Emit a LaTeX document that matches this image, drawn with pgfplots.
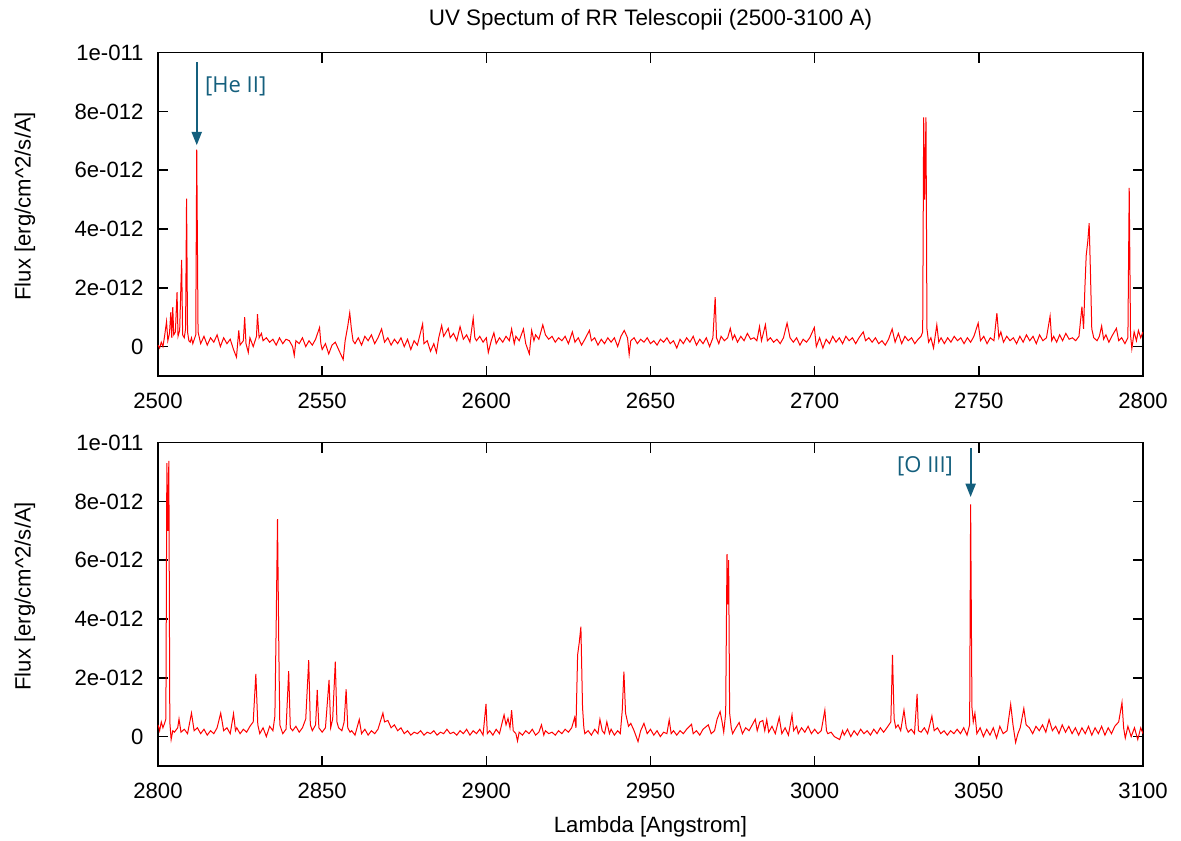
\documentclass[border=0pt]{standalone}
\usepackage{fontspec}
\setmainfont{Liberation Sans}
\newfontfamily\annfont{Open Sans}
\usepackage{pgfplots}
\pgfplotsset{compat=1.18}
\usetikzlibrary{arrows.meta}
\definecolor{annot}{RGB}{20,95,125}

\pgfplotsset{spec/.style={
    scale only axis, width=738.75pt, height=242.5pt,
    ymin=-1, ymax=10,
    ytick={0,2,4,6,8,10},
    yticklabels={0,2e-012,4e-012,6e-012,8e-012,1e-011},
    tick align=inside, major tick length=7.5pt,
    axis line style={line width=1.2pt},
    every tick/.style={black, line width=1.2pt},
    tick label style={font=\fontsize{16.6}{19}\selectfont},
    label style={font=\fontsize{16.6}{19}\selectfont},
    yticklabel style={xshift=-7.3pt},
    xticklabel style={yshift=-9.2pt},
    /pgf/number format/assume math mode=true,
    /pgf/number format/1000 sep={},
    ylabel={Flux [erg/cm\textasciicircum 2/s/A]},
    ylabel style={at={(axis description cs:-0.135,0.525)}, anchor=center},
}}

\begin{document}
\begin{tikzpicture}
\useasboundingbox (-118.5pt,-56.25pt) rectangle (767.25pt,574.5pt);

% upper panel, 2500-2800 A (flux in units of 1e-12)
\begin{axis}[spec, at={(0,292.5pt)}, anchor=south west,
    xmin=2500, xmax=2800, xtick={2500,2550,...,2800},
    title={UV Spectum of RR Telescopii (2500-3100 A)},
    title style={at={(0.5,1)}, anchor=base, yshift=14pt, font=\fontsize{16.8}{19}\selectfont}]
\addplot[red, line width=0.75pt] coordinates {
(2500.0,0.05) (2500.5,-0.05) (2501.0,0.15) (2501.5,0.0) (2502.0,0.35) (2502.6,0.85) (2503.0,0.2) (2503.5,0.45)
(2503.9,1.17) (2504.2,0.3) (2504.5,1.34) (2504.8,0.4) (2505.3,0.5) (2505.8,1.85) (2506.1,0.35) (2506.6,0.55)
(2507.2,2.95) (2507.5,0.4) (2508.0,0.3) (2508.4,0.6) (2508.7,5.03) (2509.0,0.5) (2509.4,0.2) (2509.8,0.15)
(2510.2,0.3) (2510.6,0.1) (2511.5,0.4) (2511.8,6.7) (2512.2,0.5) (2512.6,0.3)
(2513,0.1) (2514,0.35) (2515,0.05) (2516,0.3) (2517,0.15) (2518,0.4) (2519,0.0) (2520,0.3) (2521,0.1)
(2522,0.25) (2523,-0.1) (2523.9,-0.36) (2524.6,0.55) (2525,0.05) (2526,0.2) (2526.4,1.0) (2526.8,0.1)
(2527.5,-0.2) (2528,0.3) (2529,0.0) (2530,0.35) (2530.3,1.1) (2530.8,0.3) (2531.5,0.45) (2532,0.2)
(2533,0.3) (2534,0.15) (2535,0.25) (2536,0.05) (2537,0.3) (2538,0.1) (2539,0.25) (2540,0.2) (2541,0.0)
(2541.5,-0.3) (2542,0.2) (2543,0.1) (2544,0.3) (2545,0.0) (2546,0.2) (2547,0.05) (2548,0.25) (2549.2,0.65)
(2549.6,0.1) (2550,-0.1) (2551,0.1) (2552,-0.25) (2553,0.05) (2554,0.15) (2555,-0.1) (2556.4,-0.44)
(2557,0.2) (2557.8,0.7) (2558.4,1.15) (2558.9,0.6) (2559.4,0.2) (2560,0.1)
(2561,0.3) (2562,0.05) (2563,0.35) (2564,0.2) (2565,0.4) (2566,0.1) (2567,0.3) (2568.1,0.6) (2569,0.15)
(2570,0.3) (2571,0.05) (2572,0.25) (2573,0.1) (2574,0.3) (2575,0.0) (2576,0.25) (2577,-0.1) (2578,0.2)
(2579,0.05) (2580.6,0.77) (2581,0.1) (2582,0.2) (2583,-0.16) (2584,0.1) (2584.8,-0.2) (2585.5,0.3)
(2586.4,0.72) (2587,0.35) (2588.4,0.62) (2589,0.3) (2590,0.45) (2591,0.2) (2592,0.68) (2593,0.25)
(2594,0.4) (2595,0.15) (2596,0.97) (2596.5,0.3) (2597,0.2) (2598,0.35) (2599,0.15) (2600,0.3)
(2600.6,-0.2) (2601.5,0.2) (2602.3,0.47) (2603,0.1) (2604,0.3) (2605,0.15) (2606,0.35) (2607,0.2)
(2607.7,0.6) (2608.5,0.1) (2609,0.35) (2610,0.2) (2611.3,0.6) (2612,0.1) (2613.1,-0.25) (2613.8,0.55)
(2614.5,0.2) (2615,0.4) (2616,0.25) (2617.2,0.74) (2618,0.4) (2619,0.25) (2620,0.35) (2621,0.15)
(2622,0.3) (2623,0.2) (2624,0.35) (2625,0.1) (2626.2,0.5) (2627,0.15) (2628,0.3) (2629,0.05) (2630,0.25)
(2631.4,0.55) (2632,0.2) (2633,0.3) (2634,0.05) (2635,0.25) (2636,0.1) (2637,0.3) (2638,0.15) (2639,0.3)
(2640,0.0) (2641,0.35) (2642,0.55) (2643,0.3) (2643.5,-0.27) (2644,0.2) (2645,0.3) (2646,0.1) (2647,0.25)
(2648,0.15) (2649,0.3) (2650,0.1) (2651,0.2) (2652,0.05) (2653,0.25) (2654,0.15) (2655,0.3) (2656,0.1)
(2657,0.2) (2658,-0.05) (2659,0.25) (2660,0.1) (2661,0.3) (2662,0.15) (2663,0.35) (2664,0.05) (2665,0.25)
(2666,0.1) (2667,0.3) (2668,0.0) (2669,0.3) (2669.7,1.68) (2670.1,0.3) (2670.8,0.1) (2671.5,0.35)
(2672.5,0.2) (2673.5,0.3) (2674.3,0.62) (2675,0.25) (2675.6,0.4) (2676.5,0.15) (2677.5,0.35) (2678.5,0.2)
(2679.5,0.45) (2680.5,0.25) (2681.5,0.3) (2682.4,0.2) (2683.2,0.68) (2683.8,0.2) (2685,0.74) (2685.6,0.2)
(2686.5,0.3) (2687.5,0.15) (2688.5,0.25) (2689.5,0.1) (2690.5,0.3) (2691.6,0.8) (2692.5,0.3) (2693.5,0.15)
(2694.5,0.3) (2695.5,0.05) (2696.5,0.25) (2697.5,0.15) (2698.5,0.3) (2699.9,0.65) (2700.5,0.0) (2701.5,0.3)
(2702.5,-0.05) (2703.5,0.25) (2704.5,0.1) (2705.5,0.35) (2706.5,0.15) (2707.5,0.3) (2708.5,0.1) (2709.5,0.35)
(2710.5,0.2) (2711.5,0.3) (2712.5,0.1) (2713.5,0.3) (2714.8,0.5) (2715.5,0.2) (2716.5,0.3) (2717.5,0.15)
(2718.5,0.3) (2719.5,0.1) (2720.5,0.2) (2721.5,0.05) (2722.5,0.25) (2723.6,0.6) (2724.5,0.15) (2725.5,0.45)
(2726.5,0.1) (2727.5,0.35) (2728.5,0.2) (2729.5,0.3) (2730.5,0.1) (2731.5,0.25) (2732.4,0.35) (2732.9,0.5)
(2733.2,7.8) (2733.5,5.0) (2733.9,7.8) (2734.2,0.6) (2734.7,0.15) (2735.4,0.3) (2736.2,-0.05) (2737.2,0.74) (2737.8,0.15)
(2738.5,0.3) (2739.5,0.1) (2740.5,0.3) (2741.5,0.15) (2742.5,0.35) (2743.5,0.2) (2744.5,0.3) (2745.5,0.1)
(2746.5,0.3) (2747.5,0.15) (2748.5,0.35) (2749.8,0.8) (2750.5,0.2) (2751.5,0.35) (2752.5,0.1) (2753.5,0.3)
(2754.6,0.2) (2755.5,1.14) (2756.1,0.3) (2756.7,0.5) (2757.5,0.15) (2758.5,0.35) (2759.5,0.2) (2760.5,0.3)
(2761.5,0.1) (2762.5,0.35) (2763.5,0.15) (2764.5,0.4) (2765.5,0.2) (2766.5,0.35) (2767.5,0.1) (2768.5,0.4)
(2769.5,0.2) (2770.6,0.3) (2771.7,1.04) (2772.2,0.2) (2772.8,0.35) (2773.7,0.15) (2774.6,0.4) (2775.5,0.2)
(2776.5,0.45) (2777.5,0.25) (2778.5,0.3) (2779.5,0.2) (2780.5,0.35) (2781.4,1.36) (2781.9,0.6) (2782.3,2.0)
(2782.7,3.1) (2783.2,3.6) (2783.6,4.2) (2784.0,2.5) (2784.4,0.6) (2785,0.3) (2786,0.2) (2786.7,0.35)
(2787.4,0.7) (2788,0.25) (2788.7,0.4) (2789.6,0.15) (2790.5,0.35) (2791.9,0.62) (2792.6,0.2) (2793.5,0.3)
(2794.5,0.1) (2795.4,0.3) (2795.8,5.4) (2796.2,0.4) (2796.6,-0.07) (2797.3,0.5) (2798,0.2) (2798.6,0.55)
(2799.3,0.3) (2800,0.5)
};
\draw[annot, line width=1.5pt, -{Triangle[length=10pt,width=7.5pt]}]
    (axis cs:2511.8,9.68) -- (axis cs:2511.8,6.85);
\node[annot, anchor=west, font=\annfont\fontsize{16.5}{19}\selectfont, inner sep=0pt]
    at (axis cs:2514.3,8.86) {[He II]};
\end{axis}

% lower panel, 2800-3100 A
\begin{axis}[spec, at={(0,0)}, anchor=south west,
    xmin=2800, xmax=3100, xtick={2800,2850,...,3100},
    xlabel={Lambda [Angstrom]},
    xlabel style={at={(0.5,0)}, anchor=base, yshift=-50pt}]
\addplot[red, line width=0.75pt] coordinates {
(2800,0.4) (2800.5,0.2) (2801,0.5) (2801.5,0.3) (2802,0.45) (2802.4,0.6) (2802.7,9.3) (2803.0,7.0) (2803.3,9.38)
(2803.6,0.5) (2804,-0.1) (2804.5,0.2) (2805,0.15) (2806,0.3) (2806.4,0.6) (2807,0.15) (2808,0.25)
(2809,0.1) (2810.2,0.8) (2811,0.2) (2812,0.3) (2813,0.1) (2814,0.25) (2815,0.05) (2816,0.2) (2817,0.1)
(2818,0.3) (2819.1,0.8) (2820,0.2) (2821,0.3) (2822,0.1) (2823,0.78) (2823.6,0.2) (2824,0.3) (2825,0.1)
(2826,0.25) (2827,0.15) (2828,0.35) (2829,0.5) (2829.8,2.13) (2830.4,0.4) (2831,0.1) (2832,0.3) (2833,0.0)
(2834,0.35) (2835,0.2) (2835.6,0.7) (2836.0,3.83) (2836.4,7.4) (2836.8,3.0) (2837.1,0.4) (2838,0.1)
(2839,0.25) (2839.8,2.23) (2840.3,0.3) (2841,0.2) (2842,0.35) (2843,0.15) (2844,0.3) (2845,0.6)
(2845.9,2.6) (2846.4,0.4) (2847,0.2) (2848,0.4) (2848.5,1.59) (2849,0.3) (2850,0.15) (2851,0.3)
(2852.1,1.93) (2852.6,0.3) (2853.2,0.6) (2854,2.55) (2854.5,0.5) (2855,0.3) (2856,0.2) (2856.7,0.5)
(2857.3,1.61) (2857.8,0.3) (2858.5,0.15) (2859,0.2) (2860,0.05) (2861.3,0.58) (2862,0.1) (2863,0.25)
(2864,0.05) (2865,0.2) (2866,0.1) (2867,0.25) (2868.5,0.8) (2869,0.5) (2870,0.55) (2871,0.3) (2872,0.4)
(2873,0.2) (2874,0.3) (2875,0.1) (2876,0.2) (2877,0.05) (2878,0.15) (2879,0.1) (2880,0.2) (2881,0.05)
(2882,0.15) (2883,0.1) (2884,0.2) (2885,0.05) (2886,0.15) (2887,0.1) (2888,0.25) (2889,0.1) (2890,0.15)
(2891,0.05) (2892,0.2) (2893,0.1) (2894,0.25) (2895,0.05) (2896,0.2) (2897,0.1) (2898,0.25) (2899,0.05)
(2899.9,1.11) (2900.3,0.1) (2901,0.2) (2902,0.05) (2903,0.25) (2904,0.1) (2905.4,0.74) (2906,0.4)
(2906.6,0.62) (2907.2,0.3) (2907.7,0.9) (2908.2,0.2) (2909,0.1) (2909.5,-0.15) (2910,0.15) (2911,0.05)
(2912,0.2) (2913,0.1) (2914,0.25) (2915,0.05) (2916,0.15) (2916.8,0.4) (2917.5,0.05) (2918,0.2)
(2919,0.1) (2920,0.15) (2921,0.05) (2922,0.2) (2923,0.1) (2924,0.25) (2925,0.15) (2926,0.3) (2926.9,0.65)
(2927.3,0.3) (2927.8,2.78) (2928.3,3.2) (2928.8,3.74) (2929.3,1.0) (2929.7,0.3) (2930,0.1) (2931,0.2)
(2932,0.05) (2933,0.25) (2934,0.1) (2934.6,0.59) (2935.3,0.2) (2936,0.1) (2936.7,0.5) (2937.5,0.1)
(2938,0.25) (2939,0.05) (2940,0.2) (2940.8,0.1) (2941.4,0.9) (2941.9,2.21) (2942.4,0.8) (2942.8,0.6)
(2943.3,0.35) (2944,0.45) (2945,0.2) (2946.2,-0.17) (2947,0.2) (2948,0.45) (2949,0.1) (2950,0.25)
(2951,0.05) (2952,0.2) (2953,0.0) (2954,0.15) (2955,0.1) (2955.7,0.57) (2956.3,0.1) (2957,0.2)
(2958,0.05) (2959,0.2) (2960,0.1) (2961,0.25) (2962.5,0.42) (2963,0.1) (2964,0.2) (2965,0.05) (2966,0.25)
(2967.6,0.4) (2968.5,0.1) (2969.5,0.2) (2970.3,0.6) (2971.2,0.85) (2971.8,0.5) (2972.3,0.15) (2972.9,0.8)
(2973.3,6.21) (2973.55,4.5) (2973.8,6.0) (2974.1,0.8) (2974.6,0.3) (2975,0.1) (2976,0.3) (2977,0.48) (2978,0.1)
(2979,0.3) (2980,0.2) (2981,0.4) (2981.9,0.59) (2982.5,0.2) (2983.3,0.5) (2984.2,0.55) (2984.8,0.2)
(2985.4,0.57) (2986,0.15) (2987,0.35) (2988,0.1) (2989.2,0.65) (2990,0.1) (2991,0.3) (2992,0.05)
(2993.1,0.74) (2993.6,0.2) (2994.5,0.35) (2995,0.1) (2996,0.3) (2997,0.15) (2998,0.35) (2999,0.1)
(3000,0.25) (3001,0.1) (3002,0.2) (3003.1,0.9) (3003.6,0.2) (3004,0.1) (3005,0.15) (3006,0.0)
(3007.6,-0.1) (3008.5,0.2) (3009,0.05) (3010,0.25) (3011,0.0) (3012,0.2) (3013,0.05) (3014,0.25)
(3015,0.1) (3016,0.2) (3017,0.05) (3018,0.25) (3019,0.1) (3020,0.3) (3021,0.15) (3022,0.3) (3023.2,0.5)
(3023.7,2.78) (3024.2,0.6) (3024.7,0.3) (3025.4,0.4) (3026.2,0.2) (3027.2,0.9) (3027.9,0.3) (3028.5,0.15)
(3029.4,0.25) (3030.4,0.1) (3031.2,1.45) (3031.6,0.2) (3032.4,0.15) (3033.4,0.3) (3034.4,0.1) (3035.7,0.7)
(3036.4,0.2) (3037.4,0.3) (3038.4,0.1) (3039.4,0.2) (3040.4,0.05) (3041.4,0.2) (3042.4,0.1) (3043.4,0.25)
(3044.4,0.1) (3045.4,0.3) (3046.4,0.05) (3047.2,0.4) (3047.5,7.9) (3047.9,1.0) (3048.3,0.5) (3048.8,0.8)
(3049.4,0.1) (3050.4,0.3) (3051.4,0.0) (3052.4,0.25) (3053.4,0.05) (3054.4,0.3) (3055.4,-0.05) (3056.4,0.35)
(3057.4,0.1) (3058.6,0.2) (3059.7,1.1) (3060.4,0.4) (3061.2,-0.2) (3061.9,0.1) (3062.6,0.3) (3063.7,0.96)
(3064.4,0.4) (3065.4,0.3) (3066.4,0.1) (3067.4,0.35) (3068.4,0.2) (3069.4,0.4) (3070.4,0.15) (3071.4,0.58)
(3072.4,0.2) (3073.4,0.35) (3074.4,0.1) (3075.4,0.4) (3076.4,0.15) (3077.4,0.35) (3078.4,0.1) (3079.4,0.3)
(3080.4,0.05) (3081.4,0.3) (3082.4,0.1) (3083.4,0.35) (3084.4,0.05) (3085.4,0.3) (3086.4,0.1) (3087.4,0.35)
(3088.4,0.05) (3089.4,0.3) (3090.4,0.1) (3091.4,0.35) (3092.6,0.5) (3093.6,1.16) (3094.1,0.3) (3094.6,-0.05)
(3095.4,0.35) (3096.4,0.0) (3097.4,0.3) (3098.4,-0.1) (3099.3,0.3) (3100,0.1)
};
\draw[annot, line width=1.5pt, -{Triangle[length=10pt,width=7.5pt]}]
    (axis cs:3047.5,9.82) -- (axis cs:3047.5,8.15);
\node[annot, anchor=east, font=\annfont\fontsize{16.5}{19}\selectfont, inner sep=0pt]
    at (axis cs:3042.2,9.21) {[O III]};
\end{axis}
\end{tikzpicture}
\end{document}
